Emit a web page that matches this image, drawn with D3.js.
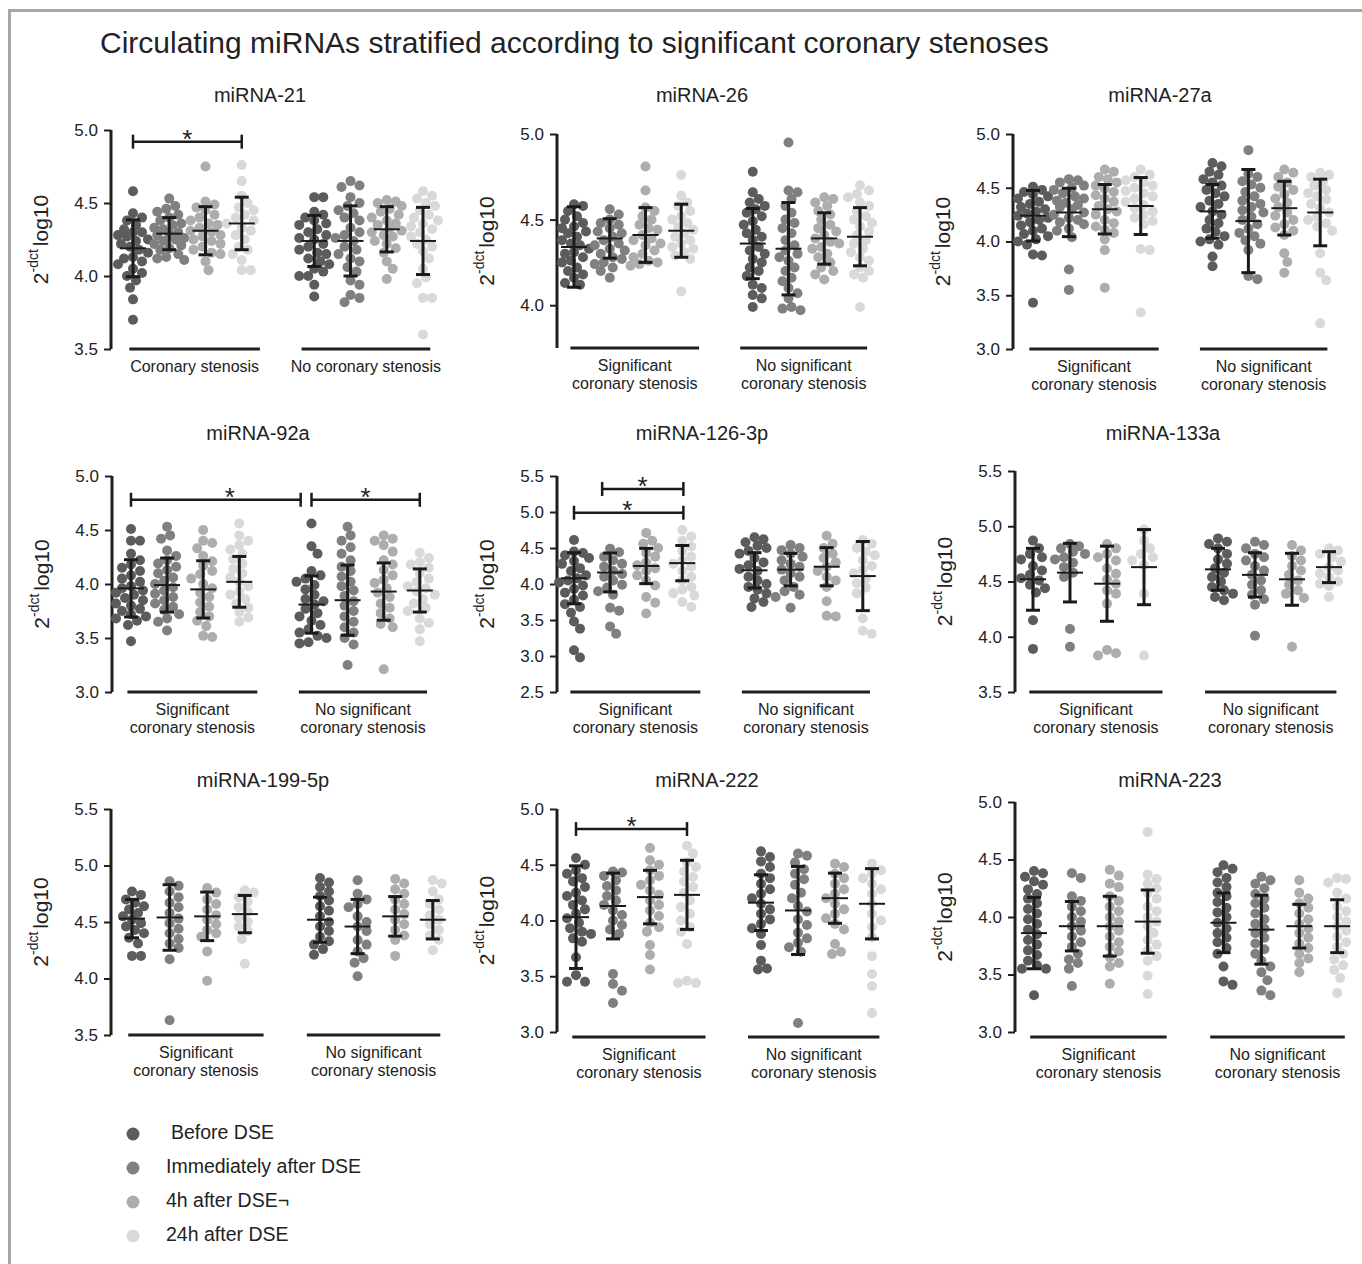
<!DOCTYPE html>
<html>
<head>
<meta charset="utf-8">
<script src="https://cdn.jsdelivr.net/npm/d3@7"></script>
<style>
  body { margin: 0; background: #fff; }
  svg text { font-family: "Liberation Sans", Arial, sans-serif; fill: #222; }
</style>
</head>
<body>
<svg id="chart" width="1362" height="1264"></svg>
<script>
// ---- data ----
const timepoints = ["Before DSE", "Immediately after DSE", "4h after DSE\u00ac", "24h after DSE"]
const miRNAs = ["miRNA-21", "miRNA-26", "miRNA-27a", "miRNA-92a", "miRNA-126-3p", "miRNA-133a", "miRNA-199-5p", "miRNA-222", "miRNA-223"]
const groupsFirst = [["Coronary stenosis", "No coronary stenosis"]]
const groupsOther = [["Significant", "coronary stenosis"], ["No significant", "coronary stenosis"]]

// 8 groups per miRNA: 4 timepoints with stenosis, then 4 without
const mir21Values = [
  [4.58,4.43,4.40,4.38,4.35,4.32,4.30,4.28,4.27,4.25,4.22,4.20,4.18,4.16,4.13,4.10,4.08,4.05,4.02,4.00,3.97,3.92,3.84,3.70,4.30,4.24,4.12],
  [4.53,4.48,4.46,4.42,4.38,4.35,4.32,4.30,4.28,4.26,4.24,4.21,4.18,4.15,4.13,4.11,4.12,4.44,4.40,4.36,4.33,4.29,4.25,4.22,4.19],
  [4.75,4.51,4.49,4.45,4.42,4.38,4.35,4.33,4.30,4.27,4.24,4.20,4.18,4.15,4.10,4.04,4.47,4.40,4.36,4.31,4.28,4.25,4.22,4.16],
  [4.76,4.65,4.55,4.50,4.47,4.42,4.38,4.33,4.28,4.18,4.11,4.04,4.04,4.45,4.40,4.36,4.31,4.25,4.20,4.15],
  [4.54,4.54,4.44,4.42,4.38,4.35,4.32,4.28,4.25,4.22,4.18,4.15,4.12,4.08,4.05,4.00,4.00,3.94,3.86,4.40,4.36,4.30,4.26,4.20,4.16,4.10,4.03],
  [4.65,4.62,4.61,4.54,4.48,4.43,4.38,4.33,4.28,4.24,4.20,4.15,4.10,4.03,3.97,3.94,3.87,3.85,3.82,4.50,4.45,4.40,4.30,4.26,4.18,4.12,4.06],
  [4.52,4.51,4.48,4.44,4.40,4.36,4.33,4.30,4.27,4.22,4.16,4.10,4.05,3.98,4.50,4.46,4.42,4.38,4.35,4.31,4.28,4.24,4.19],
  [4.58,4.55,4.50,4.45,4.40,4.36,4.32,4.27,4.22,4.17,4.12,4.05,3.99,3.95,3.85,3.85,3.60,4.53,4.48,4.42,4.38,4.34,4.30,4.25,4.20]
]
const mir21Mean = [4.19, 4.29, 4.31, 4.36, 4.24, 4.24, 4.32, 4.24]
const mir21Sd = [0.195, 0.11, 0.165, 0.18, 0.175, 0.24, 0.155, 0.23]

const mir26Values = [
  [4.59,4.58,4.52,4.50,4.48,4.45,4.42,4.40,4.38,4.35,4.33,4.30,4.28,4.25,4.22,4.20,4.16,4.13,4.12,4.55,4.46,4.43,4.36,4.31,4.26,4.18],
  [4.56,4.53,4.50,4.47,4.45,4.42,4.40,4.38,4.35,4.32,4.30,4.27,4.24,4.22,4.16,4.48,4.43,4.36,4.33,4.28,4.25,4.20],
  [4.81,4.67,4.57,4.55,4.50,4.47,4.44,4.41,4.38,4.35,4.32,4.28,4.25,4.24,4.23,4.52,4.45,4.39,4.36,4.30,4.26],
  [4.76,4.64,4.60,4.55,4.52,4.48,4.44,4.42,4.40,4.36,4.33,4.29,4.27,4.08,4.58,4.50,4.46,4.38,4.34,4.31],
  [4.78,4.66,4.62,4.58,4.56,4.52,4.47,4.42,4.38,4.34,4.30,4.25,4.22,4.17,4.12,4.10,4.06,4.04,3.99,4.60,4.54,4.49,4.44,4.40,4.32,4.27,4.20],
  [4.95,4.67,4.66,4.62,4.54,4.48,4.42,4.35,4.30,4.26,4.20,4.14,4.10,4.04,3.99,3.98,3.97,4.58,4.50,4.45,4.38,4.32,4.28,4.22,4.16,4.07],
  [4.63,4.62,4.58,4.53,4.47,4.43,4.39,4.36,4.33,4.28,4.22,4.18,4.15,4.60,4.55,4.50,4.45,4.41,4.37,4.34,4.30,4.25,4.20],
  [4.70,4.67,4.65,4.60,4.55,4.50,4.46,4.41,4.36,4.31,4.26,4.20,4.16,3.99,4.63,4.58,4.52,4.48,4.43,4.38,4.33,4.28,4.22,4.18]
]
const mir26Mean = [4.34, 4.39, 4.41, 4.435, 4.36, 4.33, 4.39, 4.40]
const mir26Sd = [0.235, 0.115, 0.16, 0.155, 0.205, 0.27, 0.15, 0.17]

const mir27aValues = [
  [4.51,4.48,4.44,4.40,4.35,4.30,4.26,4.22,4.18,4.15,4.10,4.05,4.00,3.97,3.88,3.87,3.43,4.46,4.42,4.37,4.32,4.28,4.24,4.20,4.12,4.07,4.02],
  [4.58,4.57,4.52,4.48,4.42,4.38,4.34,4.30,4.25,4.20,4.16,4.10,4.04,3.74,3.55,4.55,4.50,4.45,4.40,4.36,4.32,4.27,4.22,4.18,4.12],
  [4.67,4.65,4.58,4.52,4.46,4.40,4.33,4.28,4.20,4.14,4.08,4.02,3.92,3.57,4.60,4.55,4.49,4.43,4.37,4.30,4.25,4.17,4.11],
  [4.67,4.60,4.55,4.50,4.45,4.40,4.34,4.28,4.22,4.16,3.93,3.92,3.34,4.62,4.57,4.52,4.47,4.42,4.37,4.31,4.25,4.19],
  [4.73,4.70,4.62,4.55,4.48,4.42,4.35,4.28,4.20,4.12,4.05,4.00,3.97,3.86,3.77,4.65,4.58,4.52,4.45,4.38,4.32,4.25,4.17,4.09,4.02],
  [4.85,4.63,4.60,4.53,4.46,4.38,4.32,4.27,4.20,4.12,4.05,3.98,3.92,3.68,3.65,4.56,4.50,4.42,4.35,4.29,4.23,4.16,4.08,4.01],
  [4.67,4.64,4.51,4.44,4.36,4.27,4.20,4.13,4.06,3.89,3.81,3.71,4.60,4.55,4.48,4.40,4.32,4.24,4.16,4.10],
  [4.64,4.62,4.56,4.45,4.39,4.31,4.23,4.17,4.14,3.89,3.71,3.64,3.24,4.60,4.52,4.48,4.42,4.35,4.27,4.20,4.10]
]
const mir27aMean = [4.24, 4.27, 4.30, 4.33, 4.28, 4.19, 4.31, 4.27]
const mir27aSd = [0.235, 0.225, 0.23, 0.265, 0.25, 0.48, 0.25, 0.31]

const mir92aValues = [
  [4.51,4.40,4.40,4.28,4.18,4.12,4.05,3.98,3.94,3.90,3.85,3.80,3.75,3.70,3.66,3.62,3.47,4.22,4.15,4.08,4.02,3.96,3.92,3.87,3.82,3.77,3.72,3.68],
  [4.53,4.45,4.42,4.31,4.22,4.16,4.10,4.03,3.97,3.91,3.85,3.79,3.68,3.65,3.57,4.26,4.19,4.13,4.06,4.00,3.94,3.88,3.82,3.76,3.72],
  [4.50,4.40,4.38,4.33,4.21,4.09,4.00,3.92,3.83,3.74,3.61,3.52,3.51,4.26,4.17,4.12,4.05,3.96,3.88,3.79,3.70,3.66],
  [4.56,4.45,4.36,4.28,4.19,4.10,4.02,3.93,3.82,3.74,3.69,3.65,4.40,4.32,4.23,4.14,4.06,3.98,3.90,3.86,3.78],
  [4.56,4.35,4.28,4.12,4.05,3.99,3.90,3.81,3.73,3.66,3.58,3.52,3.50,3.46,3.45,4.08,4.02,3.95,3.86,3.84,3.77,3.70,3.62,3.55],
  [4.53,4.45,4.34,4.28,4.16,4.07,3.98,3.89,3.80,3.70,3.60,3.50,3.44,3.25,4.40,4.22,4.12,4.02,3.94,3.84,3.75,3.65,3.55],
  [4.45,4.42,4.36,4.22,4.13,4.01,3.92,3.82,3.73,3.63,3.21,4.40,4.30,4.18,4.08,4.04,3.96,3.88,3.78,3.68,3.60],
  [4.29,4.20,4.15,4.05,3.98,3.93,3.86,3.78,3.68,3.58,3.47,4.24,4.18,4.10,4.02,3.96,3.90,3.82,3.75,3.64]
]
const mir92aMean = [3.96, 3.99, 3.95, 4.02, 3.81, 3.85, 3.93, 3.94]
const mir92aSd = [0.265, 0.25, 0.265, 0.235, 0.265, 0.325, 0.265, 0.20]

const mir126Values = [
  [4.61,4.45,4.40,4.32,4.22,4.12,4.05,3.98,3.88,3.78,3.68,3.60,3.48,3.38,3.08,2.98,4.43,4.36,4.28,4.18,4.08,4.02,3.93,3.84,3.72],
  [4.49,4.38,4.28,4.18,4.10,3.99,3.90,3.67,3.63,3.41,3.31,4.44,4.33,4.24,4.14,4.05,3.95,3.85],
  [4.71,4.56,4.43,4.30,4.18,4.05,3.82,3.74,3.59,4.60,4.50,4.38,4.26,4.22,4.12,3.98],
  [4.75,4.66,4.52,4.38,4.24,4.10,3.96,3.87,3.75,3.68,4.60,4.46,4.33,4.28,4.18,4.05,3.92,3.84],
  [4.65,4.58,4.50,4.42,4.30,4.21,4.10,3.96,3.87,3.75,3.68,4.62,4.53,4.46,4.36,4.26,4.18,4.05,4.00,3.92,3.80],
  [4.54,4.47,4.38,4.24,4.10,3.96,3.82,3.67,4.50,4.42,4.33,4.28,4.20,4.15,4.05,3.90,3.85],
  [4.67,4.56,4.42,4.24,4.10,3.96,3.76,3.56,3.55,4.50,4.36,4.30,4.18,4.05],
  [4.61,4.50,4.33,4.15,4.01,3.87,3.52,3.35,3.31,4.56,4.45,4.40,4.25,4.20,4.08,3.95]
]
const mir126Mean = [4.08, 4.16, 4.25, 4.29, 4.19, 4.20, 4.24, 4.11]
const mir126Sd = [0.355, 0.27, 0.245, 0.245, 0.245, 0.225, 0.265, 0.48]

const mir133aValues = [
  [4.87,4.75,4.70,4.64,4.56,4.51,4.47,4.40,4.15,3.89,4.80,4.72,4.60,4.53,4.44],
  [4.84,4.80,4.77,4.72,4.63,4.54,4.07,3.91,4.82,4.75,4.70,4.67,4.58],
  [4.84,4.75,4.69,4.57,4.48,4.39,4.30,3.88,3.85,3.83,4.80,4.72,4.62,4.52,4.42],
  [4.97,4.87,4.75,4.69,4.39,3.83,4.80,4.72,4.65],
  [4.89,4.84,4.75,4.66,4.54,4.45,4.39,4.33,4.86,4.80,4.70,4.62,4.58,4.50,4.42,4.36],
  [4.86,4.80,4.69,4.60,4.51,4.42,4.29,4.01,4.83,4.75,4.72,4.64,4.56,4.47,4.38,4.34],
  [4.83,4.69,4.60,4.51,4.39,3.91,4.78,4.73,4.64,4.56,4.47,4.42,4.35],
  [4.80,4.72,4.63,4.54,4.46,4.36,4.78,4.75,4.68,4.60,4.57,4.50,4.48]
]
const mir133aMean = [4.52, 4.58, 4.48, 4.63, 4.61, 4.56, 4.52, 4.63]
const mir133aSd = [0.28, 0.265, 0.34, 0.34, 0.19, 0.20, 0.235, 0.14]

const mir199Values = [
  [4.77,4.70,4.64,4.58,4.52,4.46,4.40,4.31,4.20,4.20,4.74,4.67,4.61,4.55,4.49,4.43,4.36],
  [4.86,4.77,4.67,4.58,4.49,4.40,4.31,4.27,4.17,3.63,4.82,4.72,4.63,4.53,4.44,4.35],
  [4.80,4.70,4.61,4.52,4.43,4.37,4.24,3.98,4.76,4.66,4.56,4.48,4.40],
  [4.78,4.72,4.63,4.54,4.46,4.35,4.13,4.76,4.68,4.59,4.50,4.42],
  [4.89,4.81,4.73,4.64,4.55,4.46,4.37,4.30,4.21,4.85,4.77,4.69,4.60,4.50,4.42,4.33,4.26],
  [4.87,4.75,4.63,4.55,4.46,4.34,4.24,4.14,4.02,4.70,4.66,4.50,4.42,4.30,4.18],
  [4.88,4.79,4.70,4.61,4.52,4.43,4.34,4.20,4.84,4.75,4.66,4.57,4.48,4.38],
  [4.87,4.84,4.70,4.61,4.52,4.43,4.34,4.25,4.77,4.66,4.56,4.48,4.38]
]
const mir199Mean = [4.53, 4.54, 4.55, 4.57, 4.52, 4.46, 4.55, 4.52]
const mir199Sd = [0.17, 0.29, 0.215, 0.165, 0.20, 0.24, 0.175, 0.17]

const mir222Values = [
  [4.56,4.42,4.35,4.25,4.18,4.10,4.02,3.93,3.88,3.81,3.67,3.51,3.45,3.45,4.50,4.45,4.38,4.30,4.22,4.14,4.06,3.98,3.90,3.84],
  [4.44,4.36,4.27,4.18,4.09,4.00,3.92,3.52,3.43,3.37,3.26,4.43,4.40,4.31,4.22,4.14,4.05,3.96,3.88],
  [4.65,4.54,4.45,4.36,4.27,4.18,4.09,3.94,3.78,3.69,3.56,4.50,4.40,4.32,4.23,4.14,4.04,3.98,3.90],
  [4.67,4.60,4.48,4.39,4.30,4.18,4.06,3.94,3.79,3.46,3.44,3.44,4.52,4.44,4.35,4.25,4.12,4.00,3.90],
  [4.62,4.53,4.42,4.33,4.24,4.15,4.06,3.97,3.88,3.78,3.64,3.57,3.56,4.57,4.48,4.38,4.28,4.20,4.10,4.01,3.93],
  [4.60,4.58,4.46,4.37,4.25,4.13,4.01,3.89,3.80,3.08,4.52,4.42,4.32,4.20,4.08,3.96,3.84,3.76,3.72],
  [4.51,4.42,4.33,4.24,4.15,4.06,3.97,3.79,3.72,3.70,4.48,4.38,4.28,4.20,4.10,4.02,3.92],
  [4.51,4.42,4.33,4.24,4.06,3.94,3.85,3.68,3.52,3.41,3.17,4.45,4.38,4.28,4.15,4.00]
]
const mir222Mean = [4.03, 4.13, 4.21, 4.23, 4.16, 4.09, 4.20, 4.15]
const mir222Sd = [0.46, 0.295, 0.24, 0.31, 0.25, 0.395, 0.225, 0.315]

const mir223Values = [
  [4.40,4.35,4.28,4.16,4.07,3.98,3.89,3.80,3.71,3.62,3.55,3.55,3.32,4.38,4.31,4.24,4.20,4.12,4.03,3.94,3.85,3.76,3.67,3.58],
  [4.38,4.34,4.18,4.09,4.00,3.92,3.83,3.74,3.63,3.55,3.40,4.14,4.05,3.96,3.88,3.78,3.68,3.60],
  [4.41,4.29,4.18,4.09,4.00,3.92,3.83,3.74,3.65,3.57,3.42,4.36,4.26,4.14,4.05,3.96,3.88,3.78,3.70,3.60],
  [4.74,4.37,4.29,4.21,4.09,4.00,3.92,3.80,3.71,3.62,3.49,3.33,4.33,4.25,4.16,4.05,3.96,3.86,3.76,3.66],
  [4.45,4.39,4.30,4.21,4.13,4.04,3.95,3.86,3.78,3.57,3.44,3.41,4.42,4.34,4.26,4.18,4.08,4.00,3.90,3.82,3.73,3.68],
  [4.35,4.29,4.20,4.12,4.03,3.94,3.86,3.77,3.68,3.57,3.45,3.36,3.32,4.32,4.25,4.16,4.08,3.98,3.90,3.82,3.72,3.62,3.52],
  [4.32,4.21,4.12,4.03,3.94,3.86,3.77,3.68,3.60,3.52,4.16,4.08,3.98,3.90,3.82,3.73,3.64],
  [4.34,4.33,4.21,4.09,4.00,3.92,3.83,3.74,3.63,3.54,3.47,3.34,4.30,4.16,4.05,3.96,3.88,3.78,3.68,3.58]
]
const mir223Mean = [3.86, 3.92, 3.92, 3.96, 3.95, 3.89, 3.92, 3.92]
const mir223Sd = [0.31, 0.215, 0.26, 0.275, 0.26, 0.30, 0.19, 0.23]

// y domains and ticks per panel
const yDomains = [[3.5, 5], [3.75, 5], [3, 5], [3, 5], [2.5, 5.5], [3.5, 5.5], [3.5, 5.5], [3, 5], [3, 5]]
const yTicks = [
  [3.5, 4, 4.5, 5], [4, 4.5, 5], [3, 3.5, 4, 4.5, 5],
  [3, 3.5, 4, 4.5, 5], [2.5, 3, 3.5, 4, 4.5, 5, 5.5], [3.5, 4, 4.5, 5, 5.5],
  [3.5, 4, 4.5, 5, 5.5], [3, 3.5, 4, 4.5, 5], [3, 3.5, 4, 4.5, 5]
]
// significance brackets: [from slot, to slot, y value, star slot]
const brackets = [
  [[0, 3, 4.92, 1.5]], [], [],
  [[0, 4.7, 4.78, 2.74], [5, 8, 4.78, 6.5]], [[0, 3.03, 4.99, 1.48], [0.78, 3.03, 5.32, 1.9]], [],
  [], [[0, 3, 4.82, 1.5]], []
]

const panelValues = [mir21Values, mir26Values, mir27aValues, mir92aValues, mir126Values, mir133aValues, mir199Values, mir222Values, mir223Values]
const panelMeans = [mir21Mean, mir26Mean, mir27aMean, mir92aMean, mir126Mean, mir133aMean, mir199Mean, mir222Mean, mir223Mean]
const panelSds = [mir21Sd, mir26Sd, mir27aSd, mir92aSd, mir126Sd, mir133aSd, mir199Sd, mir222Sd, mir223Sd]

// ---- layout ----
const colors = ["#5c5c5c", "#808080", "#adadad", "#d9d9d9"]
const slots = [0, 1, 2, 3, 5, 6, 7, 8]
const layout = [
  {ax: 111, yr: [349, 130], g0: 133, step: 36.25, lineY: 349, tx: 260, ty: 97},
  {ax: 557, yr: [348, 134], g0: 574, step: 35.75, lineY: 348, tx: 702, ty: 97},
  {ax: 1013, yr: [349, 134], g0: 1033, step: 35.9, lineY: 349, tx: 1160, ty: 97},
  {ax: 112, yr: [692, 476], g0: 131, step: 36.1, lineY: 692, tx: 258, ty: 435},
  {ax: 557, yr: [692, 476], g0: 574, step: 36.1, lineY: 692, tx: 702, ty: 435},
  {ax: 1015, yr: [692, 471], g0: 1033, step: 37, lineY: 692, tx: 1163, ty: 435},
  {ax: 111, yr: [1035, 809], g0: 132, step: 37.6, lineY: 1035, tx: 263, ty: 782},
  {ax: 557, yr: [1032, 809], g0: 576, step: 37, lineY: 1037, tx: 707, ty: 782},
  {ax: 1015, yr: [1032, 802], g0: 1034, step: 37.9, lineY: 1037, tx: 1170, ty: 782}
]

const svg = d3.select("#chart")

// frame (top and left edges visible)
svg.append("path")
  .attr("d", "M9.5,1264 V10.5 H1362")
  .attr("fill", "none").attr("stroke", "#a6a6a6").attr("stroke-width", 3)

svg.append("text")
  .attr("x", 100).attr("y", 45)
  .attr("dominant-baseline", "middle")
  .style("font-size", "30px")
  .text("Circulating miRNAs stratified according to significant coronary stenoses")

// simple deterministic swarm: put each dot at the free offset nearest the centre
function swarm(ys, maxOff, minDist) {
  const order = ys.map((y, i) => ({y, i})).sort((a, b) => a.y - b.y)
  const placed = []
  const out = new Array(ys.length)
  const cands = [0]
  for (let k = 3; k <= maxOff; k += 3) cands.push(k, -k)
  order.forEach(p => {
    let best = 0, bestD = -1
    for (const c of cands) {
      let dmin = Infinity
      placed.forEach(q => {
        const d = Math.hypot(q.x - c, q.y - p.y)
        if (d < dmin) dmin = d
      })
      if (dmin >= minDist) { best = c; bestD = Infinity; break }
      if (dmin > bestD) { bestD = dmin; best = c }
    }
    placed.push({x: best, y: p.y})
    out[p.i] = best
  })
  return out
}

miRNAs.forEach((name, pi) => {
  const L = layout[pi]
  const y = d3.scaleLinear().domain(yDomains[pi]).range(L.yr)
  const x = d3.scaleLinear().domain([0, 8]).range([L.g0, L.g0 + 8 * L.step])
  const g = svg.append("g")

  g.append("text")
    .attr("x", L.tx).attr("y", L.ty)
    .attr("text-anchor", "middle").attr("dominant-baseline", "middle")
    .style("font-size", "20px")
    .text(name)

  // y axis
  const axis = g.append("g")
    .attr("transform", `translate(${L.ax},0)`)
    .call(d3.axisLeft(y).tickValues(yTicks[pi]).tickFormat(d3.format(".1f")).tickSize(7).tickPadding(6))
  axis.select(".domain").attr("d", `M0,${L.yr[1]}V${L.yr[0]}`).attr("stroke", "#1e1e1e").attr("stroke-width", 3)
  axis.selectAll(".tick line").attr("stroke", "#1e1e1e").attr("stroke-width", 2)
  axis.selectAll(".tick text").style("font-size", "17px").attr("fill", "#222")
    .style("font-family", "'Liberation Sans', Arial, sans-serif")

  // y label
  const ylab = g.append("text")
    .attr("transform", `translate(${L.ax - 69},${(L.yr[0] + L.yr[1]) / 2}) rotate(-90)`)
    .attr("text-anchor", "middle").attr("dominant-baseline", "middle")
    .style("font-size", "21px")
  ylab.append("tspan").text("2")
  ylab.append("tspan").attr("dy", -8).style("font-size", "14px").text("-dct")
  ylab.append("tspan").attr("dy", 8).attr("dx", 3).text("log10")

  // group lines and labels
  const labels = pi === 0 ? groupsFirst[0].map(s => [s]) : groupsOther
  ;[[-0.1, 3.5], [4.65, 8.2]].forEach((ext, k) => {
    g.append("line")
      .attr("x1", x(ext[0])).attr("x2", x(ext[1]))
      .attr("y1", L.lineY).attr("y2", L.lineY)
      .attr("stroke", "#1e1e1e").attr("stroke-width", 3)
    const cx = (x(ext[0]) + x(ext[1])) / 2
    labels[k].forEach((s, j) => {
      g.append("text")
        .attr("x", cx).attr("y", L.lineY + 19 + j * 18)
        .attr("text-anchor", "middle").attr("dominant-baseline", "middle")
        .style("font-size", "16px")
        .text(s)
    })
  })

  // dots
  panelValues[pi].forEach((vals, gi) => {
    const cx = x(slots[gi])
    const offs = swarm(vals.map(v => y(v)), 15, 9)
    g.append("g").selectAll("circle")
      .data(vals)
      .join("circle")
      .attr("cx", (d, i) => cx + offs[i])
      .attr("cy", d => y(d))
      .attr("r", 5)
      .attr("fill", colors[gi % 4])
  })

  // mean +/- SD
  panelMeans[pi].forEach((m, gi) => {
    const cx = x(slots[gi])
    const sd = panelSds[pi][gi]
    const eb = g.append("g").attr("stroke", "#1a1a1a")
    eb.append("line").attr("x1", cx).attr("x2", cx).attr("y1", y(m + sd)).attr("y2", y(m - sd)).attr("stroke-width", 3)
    ;[m + sd, m - sd].forEach(v => {
      eb.append("line").attr("x1", cx - 7).attr("x2", cx + 7).attr("y1", y(v)).attr("y2", y(v)).attr("stroke-width", 3)
    })
    eb.append("line").attr("x1", cx - 13).attr("x2", cx + 13).attr("y1", y(m)).attr("y2", y(m)).attr("stroke-width", 2)
  })

  // significance brackets
  brackets[pi].forEach(b => {
    const by = y(b[2])
    const bg = g.append("g").attr("stroke", "#1a1a1a").attr("stroke-width", 2.5)
    bg.append("line").attr("x1", x(b[0])).attr("x2", x(b[1])).attr("y1", by).attr("y2", by)
    ;[b[0], b[1]].forEach(s => {
      bg.append("line").attr("x1", x(s)).attr("x2", x(s)).attr("y1", by - 7).attr("y2", by + 7)
    })
    g.append("text")
      .attr("x", x(b[3])).attr("y", by + 6)
      .attr("text-anchor", "middle")
      .style("font-size", "26px")
      .text("*")
  })
})

// legend
const legend = svg.append("g")
timepoints.forEach((t, i) => {
  legend.append("circle").attr("cx", 133).attr("cy", 1134 + 34 * i).attr("r", 6.5).attr("fill", colors[i])
  legend.append("text")
    .attr("x", i === 0 ? 171 : 166).attr("y", 1134 + 34 * i)
    .attr("dominant-baseline", "middle")
    .style("font-size", "19.5px")
    .text(t)
})
</script>
</body>
</html>
